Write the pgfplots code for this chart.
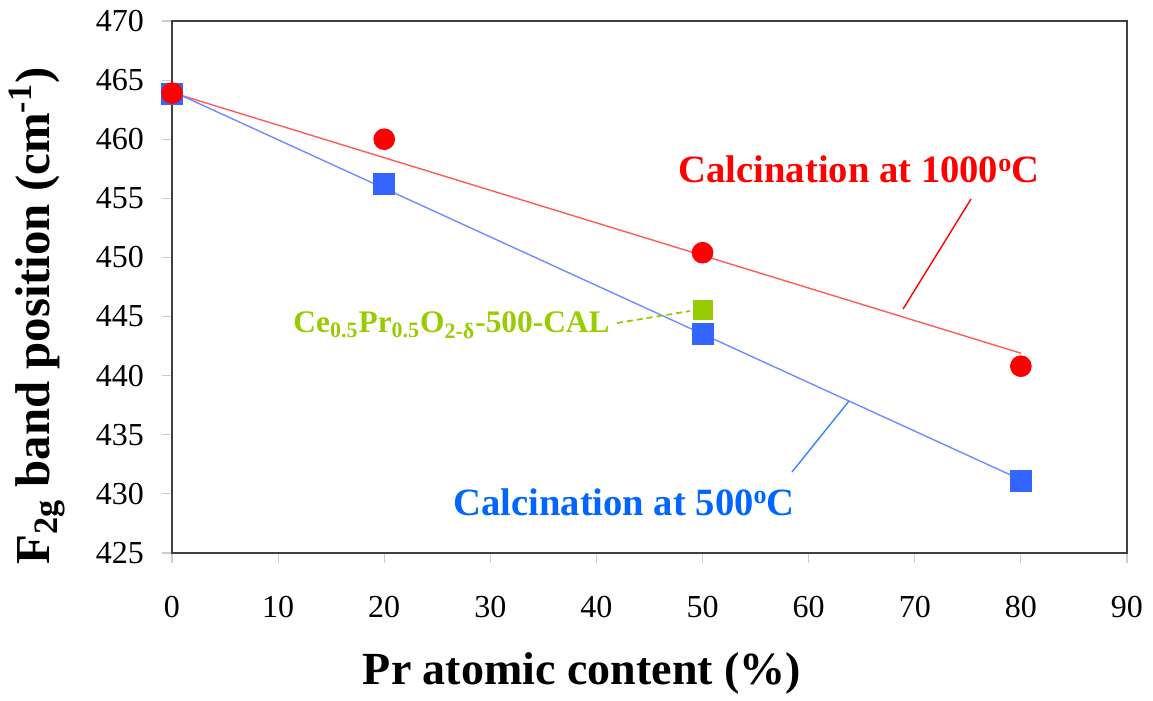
\documentclass[border=0pt]{standalone}
\usepackage{fontspec}
\setmainfont{Liberation Serif}
\usepackage{pgfplots}
\pgfplotsset{compat=1.18}

\definecolor{ptred}{RGB}{255,0,0}
\definecolor{lnred}{RGB}{255,90,90}
\definecolor{ptblue}{RGB}{51,102,255}
\definecolor{lnblue}{RGB}{110,140,255}
\definecolor{txblue}{RGB}{0,102,255}
\definecolor{ptgreen}{RGB}{153,204,0}

\begin{document}
\begin{tikzpicture}
\begin{axis}[
  scale only axis,
  width=477.5pt, height=266pt,
  xmin=0, xmax=90, ymin=425, ymax=470,
  xtick={0,10,...,90}, ytick={425,430,...,470},
  xtick pos=left, ytick pos=left,
  tick align=outside,
  major tick length=5pt,
  tick style={draw=black!20, line width=0.6pt},
  axis line style={draw=black!75, line width=0.9pt},
  tick label style={font=\rmfamily\fontsize{16}{18}\selectfont},
  xticklabel={\pgfmathprintnumber[assume math mode=true]{\tick}},
  yticklabel={\pgfmathprintnumber[assume math mode=true]{\tick}},
  yticklabel style={xshift=-5.5pt},
  xticklabel style={yshift=-13pt},
  /pgf/number format/assume math mode=true,
  clip=false,
]
% linear trends
\addplot[lnred, line width=0.7pt] coordinates {(0,463.95) (80,441.9)};
\addplot[lnblue, line width=0.7pt] coordinates {(0,464.06) (80,431.2)};

% calcination at 500 C
\addplot[only marks, mark=square*, mark size=5.25pt, color=ptblue, fill=ptblue]
  coordinates {(0,463.8) (20,456.2) (50,443.5) (80,431.1)};
% calcination at 1000 C
\addplot[only marks, mark=*, mark size=5.2pt, color=ptred, fill=ptred]
  coordinates {(0,463.9) (20,460.0) (50,450.4) (80,440.8)};
% Ce0.5Pr0.5O2-d-500-CAL
\addplot[only marks, mark=square*, mark size=4.8pt, color=ptgreen, fill=ptgreen]
  coordinates {(50,445.55)};

% leader lines
\draw[ptred, line width=0.7pt] (axis cs:68.9,445.64) -- (axis cs:75.3,454.94);
\draw[txblue!80, line width=0.7pt] (axis cs:58.43,431.85) -- (axis cs:63.8,437.85);
\draw[ptgreen, line width=0.9pt, dash pattern=on 3pt off 2pt] (axis cs:41.94,444.45) -- (axis cs:48.82,445.47);

% annotations
\node[anchor=base, text=ptred, font=\bfseries\fontsize{19.3}{23}\selectfont]
  at (axis cs:64.74,456.3) {Calcination at 1000{\fontsize{13}{15}\selectfont\raisebox{0.45em}{o}}C};
\node[anchor=base, text=txblue, font=\bfseries\fontsize{19.3}{23}\selectfont]
  at (axis cs:42.6,428.21) {Calcination at 500{\fontsize{13}{15}\selectfont\raisebox{0.45em}{o}}C};
\node[anchor=base east, text=ptgreen, font=\bfseries\fontsize{15.7}{19}\selectfont, inner sep=0pt]
  at (axis cs:41.28,443.61) {Ce\textsubscript{0.5}Pr\textsubscript{0.5}O\textsubscript{2-δ}-500-CAL};
\end{axis}

% axis titles
\node[anchor=base, font=\bfseries\fontsize{23}{28}\selectfont] at (205pt,-66pt) {Pr atomic content (\%)};
\node[anchor=base, rotate=90, font=\bfseries\fontsize{24.4}{29}\selectfont] at (-61pt,118.5pt)
  {F\textsubscript{2g} band position (cm\textsuperscript{-1})};

\pgfresetboundingbox
\useasboundingbox (-86pt,-74pt) rectangle (490.5pt,276.5pt);
\end{tikzpicture}
\end{document}
